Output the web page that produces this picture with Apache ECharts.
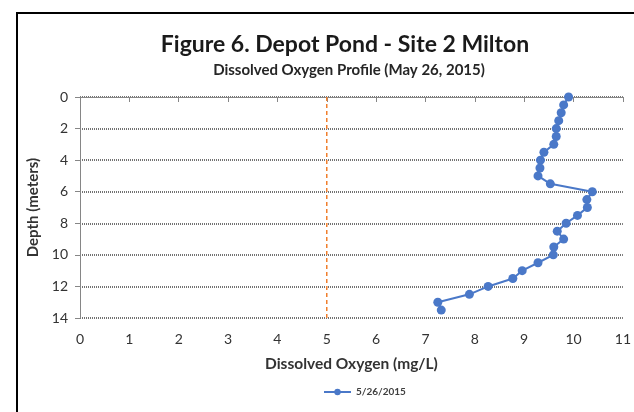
<!DOCTYPE html>
<html>
<head>
<meta charset="utf-8">
<script src="https://cdn.jsdelivr.net/npm/echarts@6/dist/echarts.min.js"></script>
<style>
  html, body { margin: 0; padding: 0; background: #fff; }
  #chart { width: 634px; height: 412px; }
</style>
</head>
<body>
<div id="chart"></div>
<script>
// depth in meters (y) and dissolved oxygen in mg/L (x)
const depths = [0, 0.5, 1, 1.5, 2, 2.5, 3, 3.5, 4, 4.5, 5, 5.5, 6, 6.5, 7, 7.5, 8, 8.5, 9, 9.5, 10, 10.5, 11, 11.5, 12, 12.5, 13, 13.5];
const oxygen = [9.9, 9.8, 9.75, 9.7, 9.65, 9.65, 9.6, 9.4, 9.33, 9.32, 9.28, 9.53, 10.38, 10.27, 10.28, 10.08, 9.85, 9.67, 9.8, 9.6, 9.59, 9.28, 8.96, 8.77, 8.27, 7.89, 7.25, 7.32];
const seriesName = "5/26/2015";
// 5 mg/L reference line, drawn across the full depth range
const thresholdX = [5, 5];
const thresholdDepth = [0, 14];

const font = "Lato, 'Open Sans', sans-serif";

const chart = echarts.init(document.getElementById("chart"));

const option = {
  animation: false,
  textStyle: { fontFamily: font },
  title: [
    {
      text: "Figure 6. Depot Pond - Site 2 Milton",
      left: 340,
      top: 28,
      textAlign: "center",
      textStyle: { fontSize: 23, fontWeight: "bold", color: "#1a1a1a", fontFamily: font },
    },
    {
      text: "Dissolved Oxygen Profile (May 26, 2015)",
      left: 344,
      top: 58,
      textAlign: "center",
      textStyle: { fontSize: 15, fontWeight: "bold", color: "#262626", fontFamily: font },
    },
  ],
  legend: {
    data: [seriesName],
    left: 318,
    top: 382,
    itemWidth: 27,
    itemHeight: 8,
    itemGap: 4,
    textStyle: { fontSize: 10, fontWeight: "bold", color: "#404040", fontFamily: font },
  },
  grid: {
    left: 80,
    right: 4,
    top: 97,
    bottom: 94,
  },
  xAxis: {
    type: "value",
    min: 0,
    max: 11,
    interval: 1,
    name: "Dissolved Oxygen (mg/L)",
    nameLocation: "middle",
    nameGap: 38,
    nameTextStyle: { fontSize: 15.5, fontWeight: "bold", color: "#333", fontFamily: font },
    axisLine: { show: true, lineStyle: { color: "#868686", width: 1 } },
    axisTick: { show: true, inside: false, length: 5, lineStyle: { color: "#868686" } },
    axisLabel: { fontSize: 14, color: "#333", margin: 14, fontFamily: font },
    splitLine: { show: false },
  },
  yAxis: {
    type: "value",
    inverse: true,
    min: 0,
    max: 14,
    interval: 2,
    name: "Depth (meters)",
    nameLocation: "middle",
    nameGap: 30,
    nameTextStyle: { fontSize: 15, fontWeight: "bold", color: "#333", fontFamily: font },
    axisLine: { show: true, lineStyle: { color: "#868686", width: 1 } },
    axisTick: { show: true, inside: false, length: 5, lineStyle: { color: "#868686" } },
    axisLabel: { fontSize: 14, color: "#333", margin: 12, fontFamily: font },
    splitLine: { show: true, lineStyle: { color: "#444", type: [1, 1], width: 1.5 } },
  },
  series: [
    {
      name: seriesName,
      type: "line",
      data: depths.map((d, i) => [oxygen[i], d]),
      symbol: "circle",
      symbolSize: 9,
      itemStyle: { color: "#4a78c8" },
      lineStyle: { color: "#4a78c8", width: 2 },
      z: 3,
    },
    {
      name: "threshold",
      type: "line",
      data: thresholdX.map((x, i) => [x, thresholdDepth[i]]),
      symbol: "none",
      lineStyle: { color: "#F07F2D", width: 1.5, type: [4, 3] },
      z: 2,
    },
  ],
  graphic: [
    {
      type: "rect",
      shape: { x: 17, y: 13, width: 640, height: 420 },
      style: { fill: "none", stroke: "#000", lineWidth: 2 },
      silent: true,
    },
  ],
};

chart.setOption(option);
</script>
</body>
</html>
